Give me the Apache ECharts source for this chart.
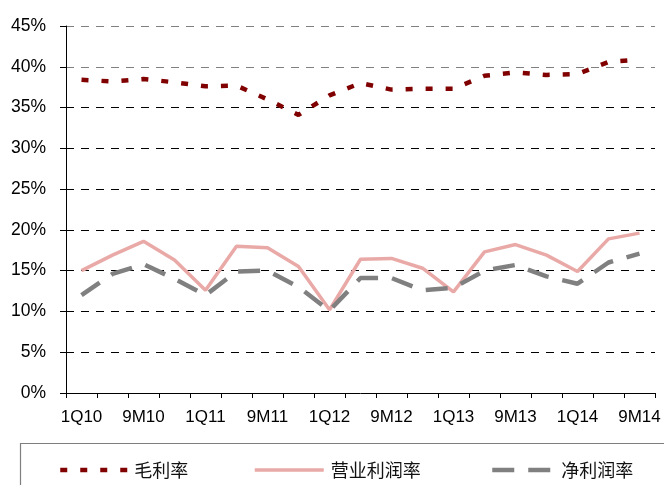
<!DOCTYPE html>
<html>
<head>
<meta charset="utf-8">
<script src="https://cdn.jsdelivr.net/npm/echarts@6/dist/echarts.min.js"></script>
<style>
html,body{margin:0;padding:0;background:#fff;}
#main{width:664px;height:485px;}
</style>
</head>
<body>
<div id="main"></div>
<script>
var categories = ['1Q10','1H10','9M10','FY10','1Q11','1H11','9M11','FY11','1Q12','1H12','9M12','FY12','1Q13','1H13','9M13','FY13','1Q14','1H14','9M14'];
var grossMargin = [38.4, 38.2, 38.5, 38.1, 37.6, 37.7, 36.0, 34.1, 36.5, 38.0, 37.2, 37.3, 37.3, 38.9, 39.3, 39.0, 39.1, 40.6, 40.9];
var operatingMargin = [15.0, 16.9, 18.6, 16.3, 12.6, 18.0, 17.8, 15.5, 10.2, 16.4, 16.5, 15.3, 12.4, 17.3, 18.2, 16.9, 14.9, 18.9, 19.6];
var netMargin = [12.0, 14.6, 15.8, 14.0, 12.0, 14.9, 15.0, 13.0, 10.1, 14.1, 14.1, 12.6, 12.9, 15.0, 15.7, 14.3, 13.4, 16.0, 17.1];
var seriesNames = ['毛利率', '营业利润率', '净利润率'];

var numFont = "'Liberation Sans Narrow', 'Arial Narrow', 'Liberation Sans', sans-serif";
var cjkFont = "'Noto Sans CJK SC', sans-serif";

var styles = [
  {color: '#800000', width: 4.5, type: [7, 13]},
  {color: '#E9A9A7', width: 3.5, type: 'solid'},
  {color: '#808080', width: 4.5, type: [22, 14]}
];

var chart = echarts.init(document.getElementById('main'), null, {renderer: 'canvas'});
var gridColors = ['#000','#000','#000','#000','#000','#000','#000','#000','#808080','#808080'];

function legendAt(i, left, w) {
  return {
    data: [seriesNames[i]], left: left, top: 456, itemWidth: w, itemHeight: 20, itemGap: 0,
    itemStyle: {opacity: 0, borderWidth: 0},
    lineStyle: {color: styles[i].color, width: styles[i].width, type: styles[i].type, opacity: 1},
    textStyle: {fontFamily: cjkFont, fontSize: 18, color: '#111', padding: [0, 0, 0, 2]},
    selectedMode: false
  };
}

chart.setOption({
  animation: false,
  backgroundColor: '#fff',
  grid: {left: 66, right: 9, top: 26, bottom: 92},
  legend: [legendAt(0, 53, 67), legendAt(1, 248, 69), legendAt(2, 485, 62)],
  graphic: [{
    type: 'rect', left: 18, top: 441, silent: true,
    shape: {width: 700, height: 100},
    style: {fill: 'none', stroke: '#7f7f7f', lineWidth: 1.2}
  }],
  xAxis: {
    type: 'category', data: categories, boundaryGap: true,
    axisLine: {lineStyle: {color: '#000', width: 1}},
    axisTick: {show: true, interval: 0, length: 5, lineStyle: {color: '#000'}},
    axisLabel: {interval: 1, margin: 16, fontFamily: numFont, fontSize: 17, color: '#000'},
    splitLine: {show: false}
  },
  yAxis: {
    type: 'value', min: 0, max: 45, interval: 5,
    axisLine: {show: true, lineStyle: {color: '#000', width: 1}},
    axisTick: {show: true, length: 6, lineStyle: {color: '#000'}},
    axisLabel: {formatter: '{value}%', margin: 20, fontFamily: numFont, fontSize: 17.5, color: '#000'},
    splitLine: {show: true, lineStyle: {color: gridColors, width: 1, type: [8, 7]}}
  },
  series: [0, 1, 2].map(function (i) {
    var data = [grossMargin, operatingMargin, netMargin][i];
    return {
      name: seriesNames[i], type: 'line', data: data, symbol: 'none',
      lineStyle: styles[i], itemStyle: {color: styles[i].color}
    };
  })
});
</script>
</body>
</html>
